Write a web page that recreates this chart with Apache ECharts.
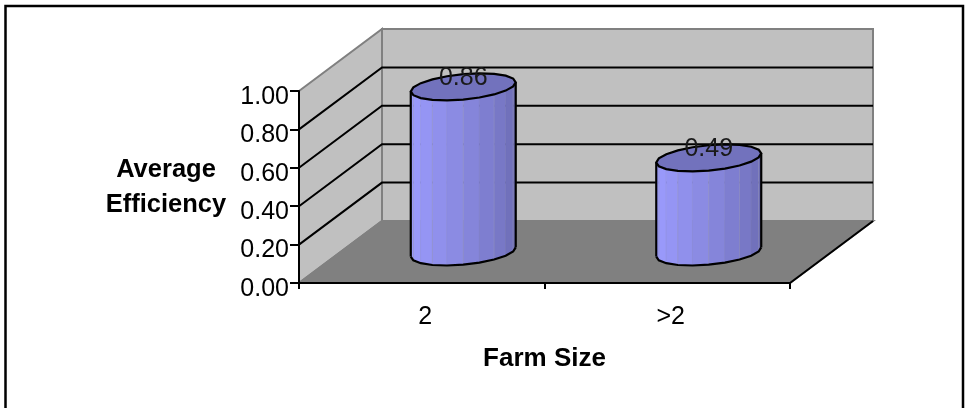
<!DOCTYPE html>
<html><head><meta charset="utf-8">
<style>html,body{margin:0;padding:0;background:#fff}#c{width:965px;height:408px}</style>
<script src="https://cdn.jsdelivr.net/npm/echarts@6/dist/echarts.min.js"></script>
</head><body><div id="c"></div>
<script>
const categories = ['2', '>2'];
const efficiency = [0.86, 0.49];
const gridTicks = [0.2, 0.4, 0.6, 0.8];
const yName = 'Average\nEfficiency';
const xName = 'Farm Size';

const font = '"Liberation Sans", Arial, sans-serif';
const depthX = 83, depthY = -62;        // oblique projection of the full floor depth
const A = 49.3, DX = 18, DY = 13.5, N = 20; // cylinder cross-section
const midX = depthX / 2, midY = depthY / 2;

function ring(cx, cy) {
  const pts = [];
  for (let i = 0; i < N; i++) {
    const t = (20 + i * 360 / N) * Math.PI / 180;
    pts.push([cx + A * Math.cos(t) + DX * Math.sin(t), cy - DY * Math.sin(t)]);
  }
  return pts;
}
function shade(f) {
  const l = [0x9c, 0x9c, 0xff], r = [0x6a, 0x6a, 0xb0];
  const k = Math.pow(f, 1.3);
  const c = l.map((v, i) => Math.round(v + (r[i] - v) * k));
  return 'rgb(' + c.join(',') + ')';
}

function renderWalls(params, api) {
  const g = params.coordSys;
  const x0 = g.x, x1 = g.x + g.width, yB = g.y + g.height, yT = g.y;
  const children = [
    { type: 'polygon', shape: { points: [[x0 + depthX, yT + depthY], [x1 + depthX, yT + depthY], [x1 + depthX, yB + depthY], [x0 + depthX, yB + depthY]] },
      style: { fill: '#c0c0c0', stroke: '#808080', lineWidth: 2 } },
    { type: 'polygon', shape: { points: [[x0, yT], [x0 + depthX, yT + depthY], [x0 + depthX, yB + depthY], [x0, yB]] },
      style: { fill: '#c0c0c0', stroke: '#808080', lineWidth: 2 } }
  ];
  gridTicks.forEach(v => {
    const p = api.coord([0, v]);
    const y = p[1];
    children.push({ type: 'polyline', shape: { points: [[x0, y], [x0 + depthX, y + depthY], [x1 + depthX, y + depthY]] },
      style: { fill: 'none', stroke: '#000', lineWidth: 2 } });
  });
  children.push({ type: 'polygon', shape: { points: [[x0, yB], [x0 + depthX, yB + depthY], [x1 + depthX, yB + depthY], [x1, yB]] },
    style: { fill: '#808080', stroke: '#808080', lineWidth: 2 } });
  children.push({ type: 'line', shape: { x1: x1, y1: yB, x2: x1 + depthX, y2: yB + depthY },
    style: { stroke: '#000', lineWidth: 2 } });
  return { type: 'group', children };
}

function renderBar(params, api) {
  const base = api.coord([api.value(0), 0]);
  const top = api.coord([api.value(0), api.value(1)]);
  const cx = base[0] + midX;
  const by = base[1] + midY, ty = top[1] + midY;
  const tr = ring(cx, ty), br = ring(cx, by);
  const children = [];
  const n = N / 2;
  // front arc runs from the left extreme (index n) to the right extreme (index N = 0)
  for (let i = 0; i < n; i++) {
    const a = n + i, b = (n + i + 1) % N;
    const fill = shade(i / (n - 1));
    children.push({ type: 'polygon', shape: { points: [tr[a], tr[b], br[b], br[a]] },
      style: { fill, stroke: i % 2 ? 'rgba(150,150,190,0.7)' : fill, lineWidth: 0.7 } });
  }
  const arc = [];
  for (let i = 0; i <= n; i++) arc.push(br[(n + i) % N]);
  children.push({ type: 'polyline', shape: { points: arc }, style: { fill: 'none', stroke: '#000', lineWidth: 2.2 } });
  children.push({ type: 'line', shape: { x1: tr[n][0], y1: tr[n][1], x2: br[n][0], y2: br[n][1] }, style: { stroke: '#000', lineWidth: 2.2 } });
  children.push({ type: 'line', shape: { x1: tr[0][0], y1: tr[0][1], x2: br[0][0], y2: br[0][1] }, style: { stroke: '#000', lineWidth: 2.2 } });
  children.push({ type: 'polygon', shape: { points: tr }, style: { fill: '#7272bd', stroke: '#000', lineWidth: 2.2 } });
  children.push({ type: 'text', style: { text: api.value(1).toFixed(2), x: cx, y: ty - 9, align: 'center', verticalAlign: 'middle',
    font: '25px ' + font, fill: '#1a1a1a' } });
  return { type: 'group', children };
}

const chart = echarts.init(document.getElementById('c'), null, { renderer: 'canvas' });
chart.setOption({
  animation: false,
  backgroundColor: '#fff',
  textStyle: { fontFamily: font },
  graphic: [{ type: 'rect', z: -10, shape: { x: 5.5, y: 6, width: 957.5, height: 430 }, style: { fill: 'none', stroke: '#000', lineWidth: 2.5 } }],
  grid: { left: 299, top: 91, width: 491, height: 192 },
  xAxis: {
    type: 'category', data: categories, z: 5,
    axisLine: { lineStyle: { color: '#000', width: 2 } },
    axisTick: { show: true, alignWithLabel: false, length: 6, lineStyle: { color: '#000', width: 2 } },
    axisLabel: { color: '#000', fontSize: 25, margin: 20, fontFamily: font, padding: [2, 0, 0, 7] },
    name: xName, nameLocation: 'middle', nameGap: 63,
    nameTextStyle: { color: '#000', fontSize: 26, fontWeight: 'bold', fontFamily: font }
  },
  yAxis: {
    type: 'value', min: 0, max: 1, interval: 0.2, z: 5,
    splitLine: { show: false },
    axisLine: { show: true, lineStyle: { color: '#000', width: 2 } },
    axisTick: { show: true, length: 9, lineStyle: { color: '#000', width: 2 } },
    axisLabel: { color: '#000', fontSize: 25, margin: 10, fontFamily: font, verticalAlign: 'top', lineHeight: 12, formatter: v => v.toFixed(2) },
    name: yName, nameLocation: 'middle', nameRotate: 0, nameGap: 133,
    nameTextStyle: { color: '#000', fontSize: 25.5, fontWeight: 'bold', lineHeight: 35, align: 'center', fontFamily: font, padding: [4, 0, 0, 0] }
  },
  series: [
    { type: 'custom', z: 1, silent: true, clip: false, renderItem: renderWalls, data: [[0, 0]], encode: { x: 0, y: 1 } },
    { type: 'custom', z: 3, silent: true, clip: false, renderItem: renderBar,
      data: efficiency.map((v, i) => [i, v]), encode: { x: 0, y: 1 } }
  ]
});
</script></body></html>
